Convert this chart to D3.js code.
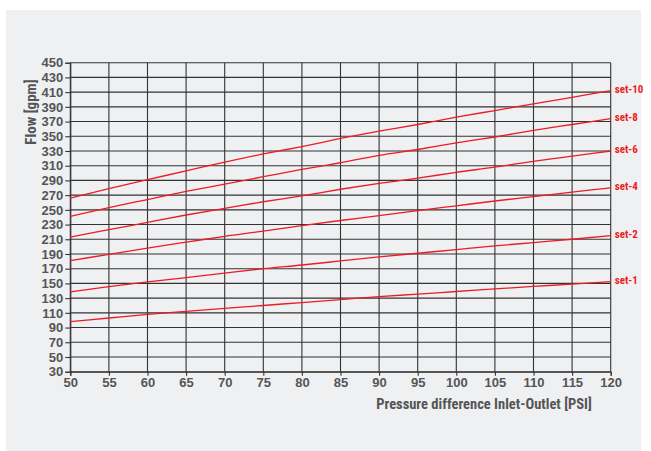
<!DOCTYPE html>
<html>
<head>
<meta charset="utf-8">
<script src="https://cdn.jsdelivr.net/npm/d3@7"></script>
<style>
  html, body { margin: 0; padding: 0; background: #ffffff; }
  svg { display: block; }
  text { font-family: "Liberation Sans Narrow", "Roboto Condensed", "DejaVu Sans Condensed", sans-serif; font-weight: bold; }
</style>
</head>
<body>
<script>
// ---- data ----
const pressure = [50, 55, 60, 65, 70, 75, 80, 85, 90, 95, 100, 105, 110, 115, 120];
const set10 = [266, 279, 291, 303, 315, 326, 336, 347, 357, 366, 376, 385, 394, 403, 412];
const set8  = [241, 253, 264, 275, 285, 295, 305, 314, 324, 332, 341, 349, 358, 366, 374];
const set6  = [213, 223, 233, 243, 252, 261, 269, 278, 286, 293, 301, 308, 316, 323, 330];
const set4  = [181, 189.5, 198, 206, 214, 221, 228.5, 235.5, 242, 249, 255.5, 262, 268, 274, 280];
const set2  = [138.5, 145.5, 152, 158, 164, 170, 175, 180.5, 186, 191, 196, 201, 205.5, 210, 215];
const set1  = [98, 103, 108, 112, 116, 120, 124, 128, 132, 135.5, 139, 142.5, 146, 149, 152.5];
const seriesNames = ["set-10", "set-8", "set-6", "set-4", "set-2", "set-1"];
const seriesValues = [set10, set8, set6, set4, set2, set1];
const xTicks = [50, 55, 60, 65, 70, 75, 80, 85, 90, 95, 100, 105, 110, 115, 120];
const yTicks = [30, 50, 70, 90, 110, 130, 150, 170, 190, 210, 230, 250, 270, 290, 310, 330, 350, 370, 390, 410, 430, 450];
const xTitle = "Pressure difference Inlet-Outlet [PSI]";
const yTitle = "Flow [gpm]";

// ---- layout ----
const W = 651, H = 451;
const svg = d3.select("body").append("svg").attr("width", W).attr("height", H);

svg.append("rect").attr("x", 6).attr("y", 10).attr("width", 635).attr("height", 441).attr("fill", "#eff0f2");

const x = d3.scaleLinear().domain([50, 120]).range([70.3, 610.7]);
const y = d3.scaleLinear().domain([30, 450]).range([371.7, 62.7]);

const gridColor = "#333";
const g = svg.append("g");

// horizontal grid
g.selectAll("line.h").data(yTicks).join("line")
  .attr("x1", x(50)).attr("x2", x(120))
  .attr("y1", d => y(d)).attr("y2", d => y(d))
  .attr("stroke", gridColor).attr("stroke-width", 1.1);
// vertical grid
g.selectAll("line.v").data(xTicks).join("line")
  .attr("y1", y(30)).attr("y2", y(450))
  .attr("x1", d => x(d)).attr("x2", d => x(d))
  .attr("stroke", gridColor).attr("stroke-width", 1.1);

// axes
const yAxis = d3.axisLeft(y).tickValues(yTicks).tickSize(5).tickPadding(2).tickFormat(d3.format("d"));
const xAxis = d3.axisBottom(x).tickValues(xTicks).tickSize(4).tickPadding(2).tickFormat(d3.format("d"));

const ya = svg.append("g").attr("transform", `translate(${x(50)},0)`).call(yAxis);
const xa = svg.append("g").attr("transform", `translate(0,${y(30)})`).call(xAxis);
[ya, xa].forEach(a => {
  a.select(".domain").attr("stroke", gridColor).attr("stroke-width", 1.1);
  a.selectAll(".tick line").attr("stroke", gridColor).attr("stroke-width", 1.1);
  a.selectAll(".tick text").attr("fill", "#555").style("font-size", "13px")
    .style("font-family", "'Liberation Sans Narrow', sans-serif").style("font-weight", "bold");
});

// lines
const line = d3.line().x((d, i) => x(pressure[i])).y(d => y(d)).curve(d3.curveMonotoneX);
const red = "#ec1c24";
svg.selectAll("path.series").data(seriesValues).join("path")
  .attr("class", "series")
  .attr("d", d => line(d))
  .attr("fill", "none").attr("stroke", red).attr("stroke-width", 1.3);

// end labels
svg.selectAll("text.lbl").data(seriesValues).join("text")
  .attr("class", "lbl")
  .attr("x", x(120) + 4)
  .attr("y", d => y(d[d.length - 1]) - 1.5)
  .attr("dy", "0.35em")
  .attr("fill", red).style("font-size", "11px")
  .text((d, i) => seriesNames[i]);

// titles
svg.append("text").attr("x", 484).attr("y", 409).attr("text-anchor", "middle")
  .attr("fill", "#555").style("font-size", "14.5px").text(xTitle);
svg.append("text").attr("transform", "translate(36,112) rotate(-90)").attr("text-anchor", "middle")
  .attr("fill", "#555").style("font-size", "15px").text(yTitle);
</script>
</body>
</html>
